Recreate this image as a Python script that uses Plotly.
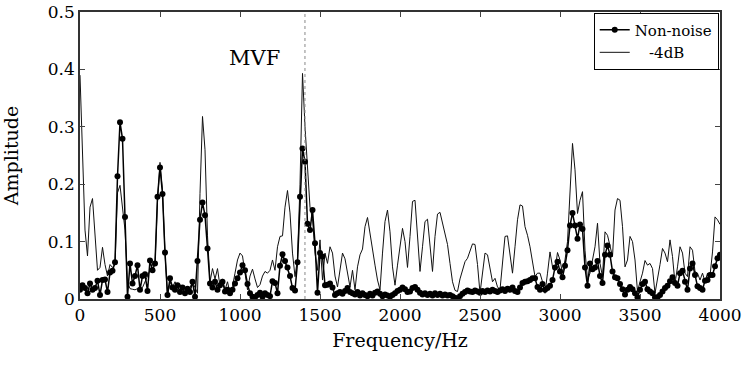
import plotly.graph_objects as go

bin_hz = 15.625

non_noise = [
    0.016, 0.024, 0.019, 0.010, 0.027, 0.016, 0.019, 0.032, 0.007, 0.033,
    0.034, 0.012, 0.046, 0.049, 0.064, 0.214, 0.308, 0.279, 0.143, 0.004,
    0.062, 0.027, 0.040, 0.059, 0.016, 0.040, 0.043, 0.014, 0.067, 0.050,
    0.062, 0.178, 0.229, 0.183, 0.081, 0.007, 0.036, 0.020, 0.016, 0.024,
    0.012, 0.020, 0.010, 0.018, 0.012, 0.030, 0.004, 0.066, 0.138, 0.168,
    0.146, 0.088, 0.027, 0.020, 0.030, 0.016, 0.024, 0.030, 0.013, 0.016,
    0.010, 0.016, 0.027, 0.036, 0.046, 0.059, 0.050, 0.026, 0.010, 0.004,
    0.003, 0.007, 0.011, 0.004, 0.010, 0.007, 0.005, 0.031, 0.028, 0.010,
    0.058, 0.078, 0.066, 0.055, 0.040, 0.019, 0.015, 0.064, 0.178, 0.262,
    0.239, 0.131, 0.120, 0.155, 0.097, 0.011, 0.080, 0.074, 0.024, 0.025,
    0.027, 0.020, 0.007, 0.010, 0.012, 0.009, 0.014, 0.019, 0.012, 0.010,
    0.008, 0.012, 0.006, 0.010, 0.007, 0.005, 0.009, 0.006, 0.011, 0.013,
    0.009, 0.005, 0.008, 0.006, 0.004, 0.007, 0.010, 0.014, 0.016, 0.020,
    0.017, 0.012, 0.013, 0.019, 0.021, 0.016, 0.011, 0.008, 0.010, 0.007,
    0.009, 0.006, 0.010, 0.007, 0.009, 0.006, 0.008, 0.006, 0.007, 0.005,
    0.002, 0.000, 0.005, 0.009, 0.012, 0.015, 0.013, 0.012, 0.015, 0.013,
    0.011, 0.014, 0.012, 0.015, 0.013, 0.016, 0.014, 0.012, 0.015, 0.017,
    0.014, 0.018, 0.016, 0.020, 0.014, 0.012, 0.020, 0.028, 0.030, 0.031,
    0.033, 0.036, 0.036, 0.021, 0.016, 0.026, 0.016, 0.019, 0.023, 0.033,
    0.055, 0.065, 0.048, 0.038, 0.058, 0.085, 0.128, 0.150, 0.128, 0.105,
    0.130, 0.122, 0.055, 0.023, 0.062, 0.052, 0.055, 0.066, 0.040, 0.028,
    0.077, 0.093, 0.077, 0.048, 0.038, 0.036, 0.026, 0.017, 0.008, 0.016,
    0.021, 0.017, 0.010, 0.003, 0.016, 0.026, 0.030, 0.017, 0.013, 0.010,
    0.003, 0.003, 0.007, 0.013, 0.019, 0.023, 0.031, 0.038, 0.028, 0.023,
    0.045, 0.049, 0.030, 0.016, 0.053, 0.062, 0.042, 0.022, 0.019, 0.016,
    0.032, 0.033, 0.042, 0.042, 0.057, 0.071, 0.077,
]

minus4db = [
    0.390, 0.260, 0.120, 0.075, 0.160, 0.175, 0.120, 0.050, 0.055, 0.090,
    0.060, 0.040, 0.060, 0.055, 0.060, 0.185, 0.198, 0.160, 0.120, 0.030,
    0.018, 0.017, 0.016, 0.018, 0.015, 0.020, 0.030, 0.040, 0.050, 0.060,
    0.060, 0.170, 0.238, 0.190, 0.080, 0.005, 0.030, 0.020, 0.030, 0.020,
    0.025, 0.015, 0.020, 0.015, 0.020, 0.030, 0.020, 0.010, 0.184, 0.318,
    0.260, 0.110, 0.030, 0.053, 0.035, 0.053, 0.022, 0.035, 0.016, 0.030,
    0.010, 0.022, 0.045, 0.068, 0.080, 0.075, 0.045, 0.016, 0.040, 0.052,
    0.035, 0.020, 0.025, 0.040, 0.048, 0.045, 0.050, 0.068, 0.050, 0.091,
    0.109, 0.110, 0.160, 0.189, 0.150, 0.080, 0.039, 0.070, 0.200, 0.393,
    0.300, 0.220, 0.160, 0.140, 0.080, 0.050, 0.103, 0.033, 0.080, 0.062,
    0.091, 0.080, 0.040, 0.021, 0.050, 0.080, 0.070, 0.045, 0.021, 0.050,
    0.016, 0.056, 0.077, 0.087, 0.126, 0.142, 0.114, 0.080, 0.059, 0.033,
    0.016, 0.080, 0.135, 0.155, 0.117, 0.056, 0.024, 0.059, 0.091, 0.123,
    0.100, 0.055, 0.109, 0.170, 0.172, 0.114, 0.048, 0.091, 0.135, 0.139,
    0.091, 0.048, 0.109, 0.148, 0.151, 0.132, 0.109, 0.095, 0.062, 0.030,
    0.015, 0.013, 0.035, 0.050, 0.065, 0.071, 0.085, 0.096, 0.095, 0.060,
    0.010, 0.045, 0.080, 0.077, 0.053, 0.030, 0.036, 0.021, 0.016, 0.068,
    0.109, 0.110, 0.074, 0.045, 0.091, 0.138, 0.164, 0.162, 0.126, 0.111,
    0.091, 0.062, 0.039, 0.045, 0.045, 0.030, 0.010, 0.045, 0.082, 0.056,
    0.050, 0.081, 0.068, 0.045, 0.068, 0.100, 0.184, 0.271, 0.225, 0.149,
    0.172, 0.187, 0.085, 0.033, 0.045, 0.068, 0.091, 0.132, 0.062, 0.039,
    0.117, 0.111, 0.091, 0.074, 0.155, 0.175, 0.172, 0.126, 0.056, 0.068,
    0.109, 0.100, 0.068, 0.013, 0.030, 0.045, 0.067, 0.059, 0.062, 0.053,
    0.010, 0.033, 0.060, 0.088, 0.080, 0.065, 0.103, 0.074, 0.027, 0.056,
    0.091, 0.080, 0.045, 0.039, 0.091, 0.085, 0.048, 0.045, 0.033, 0.045,
    0.030, 0.045, 0.040, 0.082, 0.143, 0.138, 0.130,
]

freq_nn = [i * bin_hz for i in range(len(non_noise))]
freq_4db = [i * bin_hz for i in range(len(minus4db))]

mvf_freq = 1406
mvf_label = "MVF"
x_ticks = [0, 500, 1000, 1500, 2000, 2500, 3000, 3500, 4000]
y_ticks = [0, 0.1, 0.2, 0.3, 0.4, 0.5]
y_tick_text = ["0", "0.1", "0.2", "0.3", "0.4", "0.5"]

FONT = "DejaVu Serif"

fig = go.Figure()
fig.add_trace(go.Scatter(
    x=freq_4db, y=minus4db, mode="lines", name="   -4dB",
    line=dict(color="#111111", width=1), legendrank=2,
))
fig.add_trace(go.Scatter(
    x=freq_nn, y=non_noise, mode="lines+markers", name="Non-noise",
    line=dict(color="black", width=1.5),
    marker=dict(color="black", size=6), legendrank=1,
))

fig.add_shape(type="line", x0=mvf_freq, x1=mvf_freq, y0=0, y1=0.5,
              xref="x", yref="y", line=dict(color="#888888", width=1, dash="dot"))
fig.add_annotation(x=1088, y=0.42, text=mvf_label, showarrow=False,
                   font=dict(family=FONT, size=21, color="black"))

fig.update_layout(
    width=745, height=368,
    margin=dict(l=80, r=25, t=12, b=69),
    paper_bgcolor="white", plot_bgcolor="white",
    font=dict(family=FONT, size=15, color="black"),
    showlegend=True,
    legend=dict(x=0.998, y=0.998, xanchor="right", yanchor="top",
                bordercolor="black", borderwidth=1, bgcolor="white",
                font=dict(family=FONT, size=15), tracegroupgap=0,
                itemwidth=30),
)
fig.update_xaxes(
    range=[0, 4000], tickvals=x_ticks, ticks="inside", ticklen=5,
    showline=True, linecolor="#333333", linewidth=1.5, mirror="ticks",
    showgrid=False, zeroline=False, automargin=False,
    tickfont=dict(family=FONT, size=17),
    title=dict(text="Frequency/Hz", font=dict(family=FONT, size=19), standoff=10),
)
fig.update_yaxes(
    range=[0, 0.5], tickvals=y_ticks, ticktext=y_tick_text, ticks="inside", ticklen=5,
    showline=True, linecolor="#333333", linewidth=1.5, mirror="ticks",
    showgrid=False, zeroline=False, automargin=False,
    tickfont=dict(family=FONT, size=17),
    title=dict(text="Amplitude", font=dict(family=FONT, size=19), standoff=26),
)

fig.write_html("out.html")
